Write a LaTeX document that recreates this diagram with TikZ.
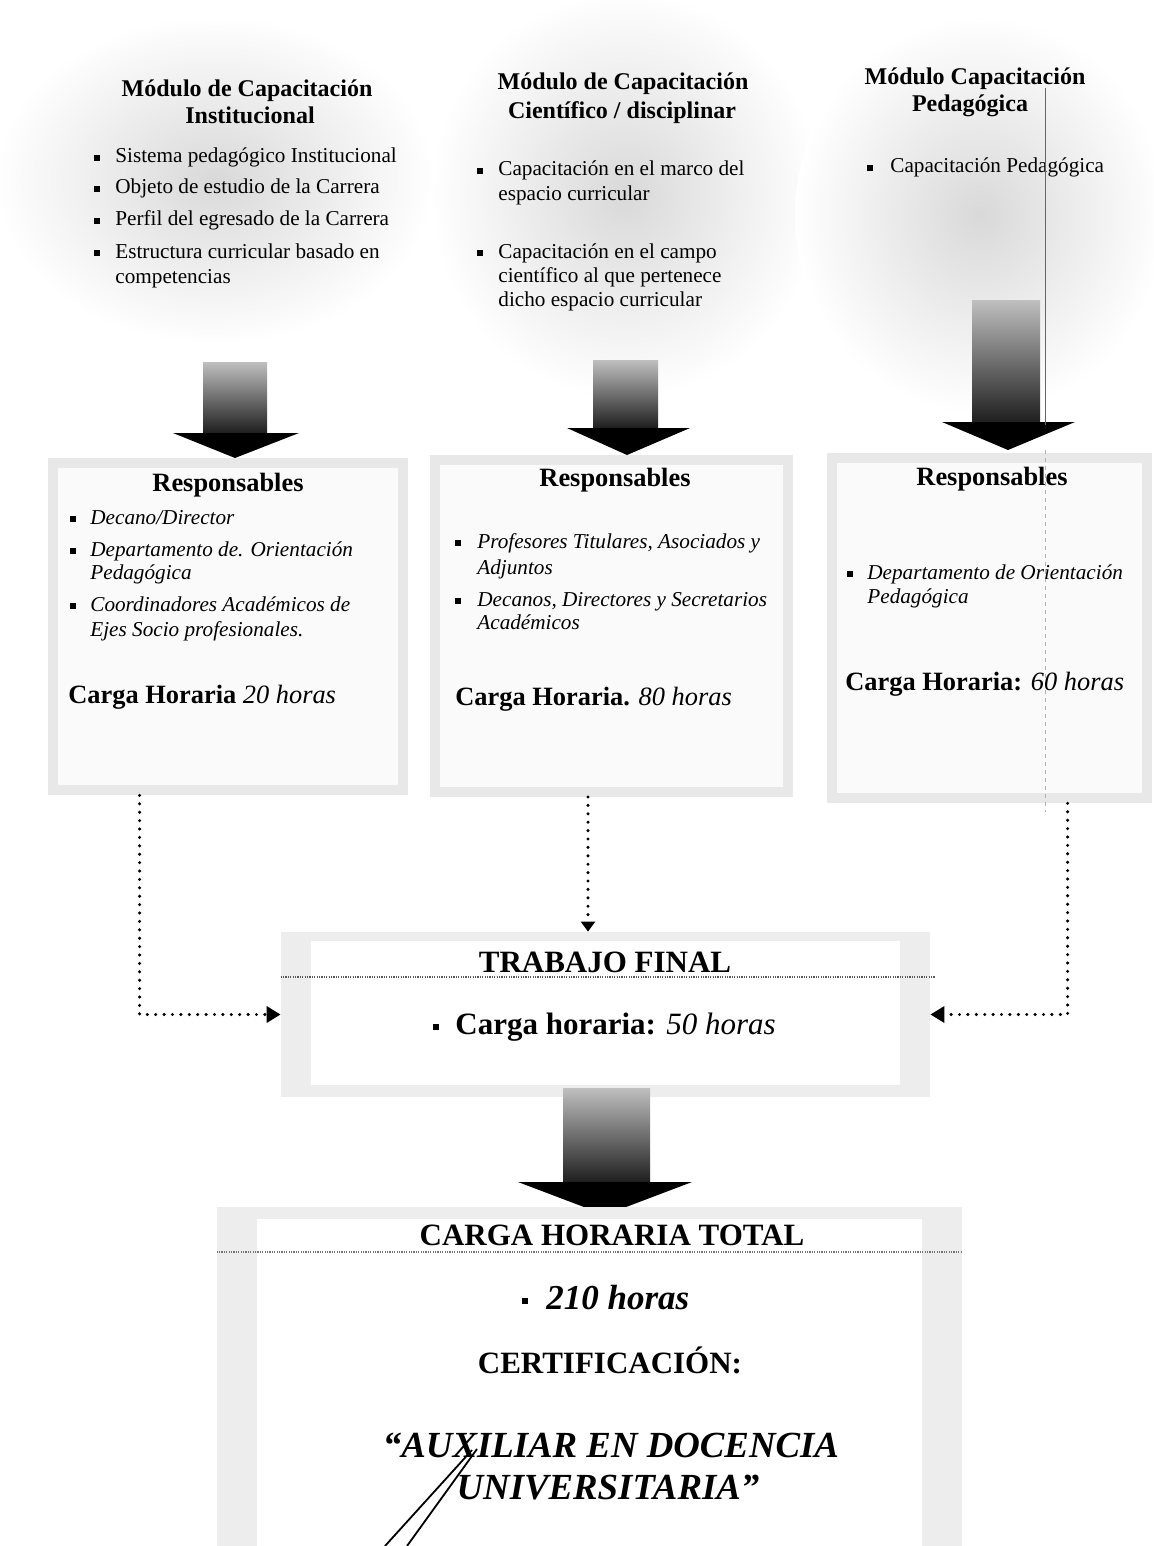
\documentclass[tikz,border=0pt]{standalone}
\usepackage{fontspec}
\setmainfont{Liberation Serif}
\usetikzlibrary{arrows.meta,fit,calc}
\begin{document}
\begin{tikzpicture}[x=0.5pt,y=-0.5pt,
  hd/.style={font=\fontsize{12}{14}\selectfont\bfseries, anchor=base, inner sep=0},
  tx/.style={font=\fontsize{10.6}{12.5}\selectfont, anchor=base west, inner sep=0},
  txi/.style={font=\fontsize{10.6}{12.5}\selectfont\itshape, anchor=base west, inner sep=0},
  rsp/.style={font=\fontsize{13.2}{15}\selectfont\bfseries, anchor=base, inner sep=0},
  chl/.style={font=\fontsize{13.2}{15}\selectfont, anchor=base west, inner sep=0},
  big/.style={font=\fontsize{15.5}{18}\selectfont\bfseries, anchor=base, inner sep=0},
  cert/.style={font=\fontsize{18.4}{21}\selectfont\bfseries\itshape, anchor=base, inner sep=0},
  bul/.style={fill=black, minimum size=2.6pt, inner sep=0, rectangle},
  cloudsh/.style={inner color=black!15, outer color=white},
  frame/.style={fill=black!9, inner sep=0},
  dotline/.style={line width=1.7pt, dash pattern=on 0pt off 4.2pt, line cap=round},
  dotarrow/.style={dotline, -{Triangle[length=7pt,width=8pt]}},
  shaft/.style={top color=black!25, bottom color=black!88},
]
\useasboundingbox (0,0) rectangle (1154,1546);

% ---------- clouds ----------
\shade[cloudsh] (215,180) ellipse [x radius=220, y radius=165];
\shade[cloudsh] (625,195) ellipse [x radius=195, y radius=205];
\shade[cloudsh] (980,215) ellipse [x radius=185, y radius=200];

% ---------- top modules ----------
\node[hd] (h1a) at (247,97) {Módulo de Capacitación};
\node[hd] (h1b) at (250,124) {Institucional};
\node[bul] (b1a) at (97,158) {};
\node[tx] (t1a) at (115,163) {Sistema pedagógico Institucional};
\node[bul] (b1b) at (97,189) {};
\node[tx] (t1b) at (115,194) {Objeto de estudio de la Carrera};
\node[bul] (b1c) at (97,221) {};
\node[tx] (t1c) at (115,226) {Perfil del egresado de la Carrera};
\node[bul] (b1d) at (97,253) {};
\node[tx] (t1d) at (115,258) {Estructura curricular basado en};
\node[tx] (t1e) at (115,283) {competencias};

\node[hd] (h2a) at (623,90) {Módulo de Capacitación};
\node[hd] (h2b) at (622,119) {Científico / disciplinar};
\node[bul] (b2a) at (480,171) {};
\node[tx] (t2a) at (498,176) {Capacitación en el marco del};
\node[tx] (t2b) at (498,201) {espacio curricular};
\node[bul] (b2c) at (480,253) {};
\node[tx] (t2c) at (498,258) {Capacitación en el campo};
\node[tx] (t2d) at (498,282) {científico al que pertenece};
\node[tx] (t2e) at (498,306) {dicho espacio curricular};

\node[hd] (h3a) at (975,85) {Módulo Capacitación};
\node[hd] (h3b) at (970,112) {Pedagógica};
\node[bul] (b3a) at (870,168) {};
\node[tx] (t3a) at (890,173) {Capacitación Pedagógica};

% ---------- block arrows ----------
\shade[shaft] (203,362) rectangle (267,433);
\fill (173,433) -- (299,433) -- (235,458) -- cycle;
\shade[shaft] (593,360) rectangle (658,428);
\fill (567,428) -- (690,428) -- (627,455) -- cycle;
\shade[shaft] (972,300) rectangle (1040,422);
\fill (942,422) -- (1075,422) -- (1008,450) -- cycle;

% ---------- responsables boxes ----------
\node[frame, fit={(48,458) (408,795)}] (box1) {};
\fill[black!2] ($(box1.north west)+(10,10)$) rectangle ($(box1.south east)+(-10,-10)$);
\node[frame, fit={(430,455) (793,797)}] (box2) {};
\fill[black!2] ($(box2.north west)+(10,10)$) rectangle ($(box2.south east)+(-10,-10)$);
\node[frame, fit={(827,453) (1152,803)}] (box3) {};
\fill[black!2] ($(box3.north west)+(10,10)$) rectangle ($(box3.south east)+(-10,-10)$);

% scan line artefact
\draw[black!60, line width=0.5pt] (1045,88) -- (1045,425);
\draw[black!30, line width=0.4pt, dash pattern=on 2pt off 2pt] (1045,450) -- (1045,812);

\node[rsp] (r1) at (228,491) {Responsables};
\node[bul] (b4a) at (73,519) {};
\node[txi] (t4a) at (90,524) {Decano/Director};
\node[bul] (b4b) at (73,551) {};
\node[txi] (t4b) at (90,556) {Departamento de. Orientación};
\node[txi] (t4c) at (90,579) {Pedagógica};
\node[bul] (b4d) at (73,606) {};
\node[txi] (t4d) at (90,611) {Coordinadores Académicos de};
\node[txi] (t4e) at (90,636) {Ejes Socio profesionales.};
\node[chl] (c1) at (68,703) {\textbf{Carga Horaria} \textit{20 horas}};

\node[rsp] (r2) at (615,486) {Responsables};
\node[bul] (b5a) at (458,543) {};
\node[txi] (t5a) at (477,548) {Profesores Titulares, Asociados y};
\node[txi] (t5b) at (477,574) {Adjuntos};
\node[bul] (b5c) at (458,601) {};
\node[txi] (t5c) at (477,606) {Decanos, Directores y Secretarios};
\node[txi] (t5d) at (477,629) {Académicos};
\node[chl] (c2) at (455,705) {\textbf{Carga Horaria.} \textit{80 horas}};

\node[rsp] (r3) at (992,485) {Responsables};
\node[bul] (b6a) at (850,574) {};
\node[txi] (t6a) at (867,579) {Departamento de Orientación};
\node[txi] (t6b) at (867,603) {Pedagógica};
\node[chl] (c3) at (845,690) {\textbf{Carga Horaria:} \textit{60 horas}};

% ---------- trabajo final ----------
\node[frame, fill=black!7, fit={(281,932) (930,1097)}] (tf) {};
\fill[white] ($(tf.north west)+(30,9)$) rectangle ($(tf.south east)+(-30,-12)$);
\draw[black!65, line width=0.6pt, dash pattern=on 0.6pt off 0.6pt] (tf.west |- 0,977) -- ++(655,0);
\node[big] (tft) at (605,972) {TRABAJO FINAL};
\node[bul, minimum size=3pt] (b7) at (436,1027) {};
\node[font=\fontsize{15.5}{18}\selectfont, anchor=base west, inner sep=0] (tfc) at (455,1034) {\textbf{Carga horaria:} \textit{50 horas}};

% ---------- dotted connectors ----------
\coordinate (d1) at ($(box1.south west)+(92,0)$);
\coordinate (d2) at (588,797);
\coordinate (d3) at ($(box3.south west)+(241,0)$);
\draw[dotarrow] (d1) |- (tf.west);
\draw[dotarrow, -{Triangle[length=5pt,width=7pt]}] (d2) -- (d2 |- tf.north);
\draw[dotarrow] (d3) |- (tf.east);

% ---------- bottom arrow ----------
\shade[shaft] (563,1088) rectangle (650,1182);
\fill (518,1182) -- (692,1182) -- (605,1215) -- cycle;

% ---------- total box ----------
\node[frame, fill=black!7, fit={(217,1207) (962,1560)}] (tot) {};
\fill[white] ($(tot.north west)+(40,12)$) rectangle ($(tot.south east)+(-40,-14)$);
\draw[black!55, line width=0.6pt, dash pattern=on 0.6pt off 0.6pt] (tot.west |- 0,1252) -- ++(745,0);
\node[big] (tott) at (612,1245) {CARGA HORARIA TOTAL};
\node[bul, minimum size=3pt] (b8) at (525,1301) {};
\node[font=\fontsize{17.5}{20}\selectfont\bfseries\itshape, anchor=base west, inner sep=0] (toth) at (546,1309) {210 horas};
\node[big] (cer) at (610,1373) {CERTIFICACIÓN:};
\node[cert] (aux1) at (611,1457) {“AUXILIAR EN DOCENCIA};
\node[cert] (aux2) at (608,1499) {UNIVERSITARIA”};

% pen strokes
\draw[line width=0.9pt] (472,1450) -- (385,1546);
\draw[line width=0.9pt] (477,1449) -- (407,1546);
\end{tikzpicture}
\end{document}
